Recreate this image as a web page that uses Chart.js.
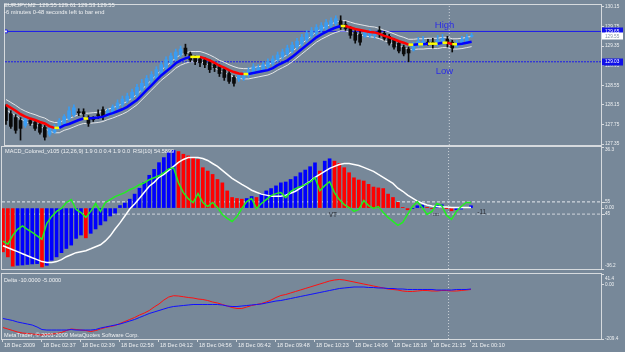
<!DOCTYPE html>
<html>
<head>
<meta charset="utf-8">
<script src="https://cdn.jsdelivr.net/npm/chart.js@4.4.0/dist/chart.umd.min.js"></script>
<style>
  html, body { margin: 0; padding: 0; background: #778899; }
  #wrap { position: relative; width: 625px; height: 352px; overflow: hidden; background: #778899; }
  #wrap canvas { position: absolute; left: 0; top: 0; }
</style>
</head>
<body>
<div id="wrap">
  <canvas id="mainChart" width="625" height="352"></canvas>
  <canvas id="macdChart" width="625" height="352"></canvas>
  <canvas id="deltaChart" width="625" height="352"></canvas>
</div>
<script>
// time axis labels, one every 8 bars
const tickBars = [0, 8, 16, 24, 32, 40, 48, 56, 64, 72, 80, 88, 96];
const tickLabels = ['18 Dec 2009', '18 Dec 02:37', '18 Dec 02:39', '18 Dec 02:58', '18 Dec 04:12', '18 Dec 04:56',
    '18 Dec 06:42', '18 Dec 09:48', '18 Dec 10:23', '18 Dec 14:06', '18 Dec 18:18', '18 Dec 21:15', '21 Dec 00:10'];

// EURJPY M2 candles
const opens = [128.09,127.97,127.89,127.83,127.73,127.83,127.79,127.75,127.69,127.55,
    127.59,127.69,127.77,127.87,127.95,128.01,128.01,127.89,127.87,127.95,
    128.05,127.95,127.99,128.09,128.15,128.23,128.29,128.35,128.45,128.53,
    128.63,128.71,128.81,128.91,129.01,129.09,129.17,129.31,129.19,129.11,
    129.09,129.07,129.03,128.97,128.93,128.87,128.79,128.71,128.67,128.69,
    128.75,128.81,128.85,128.87,128.93,128.99,129.07,129.13,129.19,129.25,
    129.33,129.39,129.47,129.55,129.61,129.67,129.71,129.77,129.81,129.87,
    129.79,129.71,129.63,129.59,129.55,129.57,129.57,129.67,129.61,129.55,
    129.47,129.41,129.33,129.29,129.27,129.37,129.39,129.43,129.43,129.39,
    129.43,129.49,129.43,129.35,129.39,129.43,129.55];
const closes = [127.83,127.71,127.63,127.67,127.87,127.77,127.67,127.59,127.49,127.67,
    127.71,127.83,127.91,128.03,128.09,127.99,127.97,127.77,127.85,127.93,
    127.91,128.03,128.11,128.19,128.27,128.33,128.41,128.51,128.59,128.69,
    128.77,128.87,128.97,129.07,129.15,129.23,129.29,129.19,129.07,129.03,
    129.01,128.97,128.87,128.91,128.79,128.71,128.63,128.59,128.75,128.79,
    128.85,128.93,128.91,128.97,129.03,129.09,129.17,129.23,129.31,129.37,
    129.45,129.53,129.61,129.67,129.73,129.77,129.83,129.87,129.91,129.73,
    129.71,129.57,129.47,129.43,129.63,129.63,129.61,129.63,129.51,129.41,
    129.33,129.25,129.19,129.21,129.37,129.45,129.45,129.41,129.39,129.47,
    129.51,129.43,129.31,129.41,129.49,129.53,129.55];
const highs = [128.15,128.03,127.95,127.89,127.91,127.87,127.83,127.79,127.73,127.71,
    127.75,127.87,127.95,128.11,128.15,128.07,128.07,127.93,127.91,128.05,
    128.11,128.07,128.15,128.25,128.33,128.39,128.47,128.57,128.67,128.75,
    128.83,128.93,129.03,129.13,129.21,129.29,129.35,129.39,129.23,129.15,
    129.13,129.11,129.07,129.01,128.97,128.91,128.83,128.75,128.79,128.83,
    128.91,128.99,128.97,129.03,129.09,129.15,129.23,129.29,129.37,129.43,
    129.51,129.59,129.67,129.73,129.79,129.83,129.89,129.93,129.97,129.97,
    129.85,129.75,129.67,129.65,129.67,129.69,129.65,129.75,129.65,129.59,
    129.51,129.45,129.37,129.33,129.43,129.53,129.55,129.49,129.51,129.57,
    129.59,129.55,129.47,129.47,129.55,129.59,129.61];
const lows = [127.75,127.67,127.57,127.43,127.69,127.73,127.63,127.55,127.43,127.51,
    127.57,127.65,127.75,127.83,127.91,127.93,127.91,127.71,127.81,127.87,
    127.85,127.91,127.95,128.05,128.11,128.19,128.25,128.31,128.41,128.49,
    128.59,128.67,128.77,128.87,128.97,129.05,129.13,129.15,129.03,128.97,
    128.93,128.91,128.81,128.83,128.73,128.65,128.59,128.53,128.63,128.65,
    128.71,128.77,128.81,128.83,128.89,128.95,129.03,129.09,129.15,129.21,
    129.29,129.35,129.43,129.51,129.57,129.63,129.67,129.73,129.77,129.69,
    129.67,129.51,129.41,129.37,129.53,129.53,129.51,129.53,129.47,129.37,
    129.29,129.21,129.15,129.03,129.25,129.33,129.35,129.37,129.31,129.35,
    129.39,129.33,129.23,129.33,129.37,129.39,129.53];

// moving average and its envelope
const maLine = [128.15,128.09,128.03,127.96,127.91,127.87,127.84,127.80,127.77,127.71,
    127.68,127.68,127.73,127.76,127.80,127.84,127.87,127.87,127.88,127.89,
    127.91,127.95,127.98,128.02,128.06,128.11,128.18,128.25,128.35,128.45,
    128.55,128.65,128.75,128.83,128.91,129.00,129.06,129.10,129.13,129.13,
    129.13,129.10,129.06,129.01,128.95,128.91,128.86,128.82,128.79,128.78,
    128.78,128.80,128.82,128.84,128.86,128.90,128.96,129.01,129.06,129.13,
    129.21,129.29,129.37,129.45,129.53,129.59,129.64,129.69,129.73,129.76,
    129.76,129.73,129.70,129.68,129.66,129.64,129.63,129.60,129.56,129.53,
    129.49,129.45,129.42,129.38,129.38,129.39,129.39,129.40,129.40,129.40,
    129.42,129.42,129.39,129.39,129.40,129.42,129.44];
const upperBand = [128.26,128.20,128.14,128.07,128.02,127.98,127.95,127.91,127.88,127.82,
    127.79,127.79,127.84,127.87,127.91,127.95,127.98,127.98,127.99,128.00,
    128.02,128.06,128.09,128.13,128.17,128.22,128.29,128.36,128.46,128.56,
    128.66,128.76,128.86,128.94,129.02,129.11,129.17,129.21,129.24,129.24,
    129.24,129.21,129.17,129.12,129.06,129.02,128.97,128.93,128.90,128.89,
    128.89,128.91,128.93,128.95,128.97,129.01,129.07,129.12,129.17,129.24,
    129.32,129.40,129.48,129.56,129.64,129.70,129.75,129.80,129.84,129.87,
    129.87,129.84,129.81,129.79,129.77,129.75,129.74,129.71,129.67,129.64,
    129.60,129.56,129.53,129.49,129.49,129.50,129.50,129.51,129.51,129.51,
    129.53,129.53,129.50,129.50,129.51,129.53,129.55];
const lowerBand = [128.05,127.99,127.93,127.86,127.81,127.77,127.74,127.70,127.67,127.61,
    127.58,127.58,127.63,127.66,127.70,127.74,127.77,127.77,127.78,127.79,
    127.81,127.85,127.88,127.92,127.96,128.01,128.08,128.15,128.25,128.35,
    128.45,128.55,128.65,128.73,128.81,128.90,128.96,129.00,129.03,129.03,
    129.03,129.00,128.96,128.91,128.85,128.81,128.76,128.72,128.69,128.68,
    128.68,128.70,128.72,128.74,128.76,128.80,128.86,128.91,128.96,129.03,
    129.11,129.19,129.27,129.35,129.43,129.49,129.54,129.59,129.63,129.66,
    129.66,129.63,129.60,129.58,129.56,129.54,129.53,129.50,129.46,129.43,
    129.39,129.35,129.32,129.28,129.28,129.29,129.29,129.30,129.30,129.30,
    129.32,129.32,129.29,129.29,129.30,129.32,129.34];

const highLevel = 129.65;
const lowLevel = 129.03;
const priceTicks = [130.15, 129.75, 129.35, 128.95, 128.55, 128.15, 127.75, 127.35];

// MACD_Colored histogram, signal and RSI(10)
const macdHist = [-26,-29,-34.5,-34,-33.8,-33.5,-33.2,-33,-35,-34,
    -31,-29,-26.5,-24,-22,-18,-16,-17.7,-15,-12.4,
    -10,-7.7,-4.7,-3,1.5,3,5.3,8.3,11.8,15.3,
    19.5,23,27,30,33,34.2,33.6,32,31,29.9,
    28.9,24,22,20,17,15,10.2,6.3,5.7,5.3,
    5.7,6.9,6.3,8.3,10.2,11.6,13.2,15,15.5,17,
    18.7,21,22.6,24.6,26.9,22,27.9,29.3,27.9,26.5,
    24,21,18,16.7,16.1,14.1,12.5,12,11.6,8.3,
    6.3,3.4,0.4,-1,-0.2,1.4,1.8,0.4,-0.2,1.8,
    2,-0.2,-1.6,-1,-0.6,0.4,1.4];
const macdSignal = [-22.4,-23.6,-24.8,-25.9,-27.1,-28.3,-29.5,-30.6,-31.8,-32.4,
    -32.4,-31.8,-30.6,-28.9,-27.7,-26.5,-25.9,-25.3,-24.2,-23,
    -21.8,-19.5,-16.5,-12.4,-8.8,-4.7,-0.6,2.4,5.9,9.4,
    13,15.3,18.3,20,22.4,24.8,27.1,28.9,30,30,
    30,29.5,28.3,26.5,24.8,22.4,20,17.7,15.9,14.1,
    12.4,10.6,9.4,8.3,7.7,7.1,7.1,7.1,7.7,8.8,
    10,11.8,14.1,15.9,18.3,20,21.8,23.6,24.8,25.9,
    26.5,26.5,25.9,25.3,24.2,23,21.8,20,18.3,16.5,
    14.7,11.8,10,7.7,5.9,4.1,2.9,1.8,1.2,0.9,
    0.6,0.6,0.3,0.3,0.3,0.3,0.3];
const rsi = [22.8,20.3,27.6,32.5,35.4,32.5,30,27.2,24.4,37.4,
    43.1,47.2,49.6,54.5,56.9,48.8,46.3,42.3,47.2,53.7,
    47.2,54.5,56.9,59.3,61,62.6,65,66.7,69.1,70.7,
    73.2,74.8,76.4,78.9,82.1,82.9,70.7,62.6,57.7,54.5,
    61.8,54.5,51.2,54.5,50.4,44.7,41.5,39,43.1,49.6,
    55.3,57.7,49.6,53.7,56.9,60.2,61.8,62.6,58.5,63.4,
    65.9,67.5,69.1,71.5,74.8,64.2,68.3,71.5,62.6,56.9,
    52.8,50.4,47.2,48.8,56.1,52,49.6,51.2,46.3,42.3,
    39,35.8,38.2,44.7,51.2,55.3,50.4,44.7,47.2,53.7,
    52,43.9,40.7,47.2,51.2,54.5,54.6];
const rsiLevels = [55, 45];

// Delta(-10, -5) lines
const deltaRed = [-165.1,-170.9,-176.7,-182.5,-186.3,-188.3,-190.2,-192.1,-194.1,-192.1,
    -190.2,-188.3,-184.4,-176.7,-170.9,-172.8,-174.8,-176.7,-180.6,-176.7,
    -170.9,-165.1,-161.2,-157.4,-149.7,-141.9,-134.2,-126.5,-116.9,-109.2,
    -99.5,-86,-74.4,-59,-47.4,-42.4,-43.5,-46.2,-49.3,-51.2,
    -55.1,-57,-60.9,-66.7,-70.5,-76.3,-82.1,-87.9,-91.7,-91.7,
    -86,-80.2,-76.3,-72.5,-66.7,-59,-49.3,-41.6,-37.7,-31.9,
    -26.1,-20.4,-14.6,-8.8,-3,2.8,8.6,14.4,18.2,20.2,
    18.2,14.4,10.6,6.7,2.8,-1.1,-4.9,-8.8,-12.6,-16.5,
    -18.4,-20.4,-24.2,-26.1,-26.1,-24.2,-22.3,-22.3,-24.2,-24.2,
    -22.3,-22.3,-24.2,-24.2,-22.3,-20.4,-18.4];
const deltaBlue = [-130.4,-134.2,-138.1,-143.9,-147.7,-151.6,-155.5,-163.2,-172.9,-174.8,
    -174.8,-174.8,-174.8,-174.8,-172.9,-174.8,-174.8,-174.8,-174.8,-172.9,
    -167.1,-163.2,-159.4,-155.5,-151.6,-145.8,-140,-134.2,-126.5,-118.8,
    -111.1,-105.3,-99.5,-93.7,-87.9,-84,-82.1,-80.2,-78.2,-76.3,
    -76.3,-76.3,-76.3,-76.3,-76.3,-78.2,-82.1,-84,-84,-82.1,
    -80.2,-78.2,-76.3,-74.4,-70.5,-66.7,-62.8,-60.9,-57,-53.2,
    -49.3,-45.4,-41.6,-37.7,-33.9,-30,-26.1,-22.3,-18.4,-14.6,
    -12.6,-10.7,-8.8,-8.8,-8.8,-10.7,-10.7,-12.6,-12.6,-14.6,
    -14.6,-16.5,-16.5,-18.4,-18.4,-18.4,-18.4,-18.4,-18.4,-20.4,
    -20.4,-20.4,-20.4,-18.4,-18.4,-18.4,-16.5];

// vertical line object
const separatorBar = 91.4;

const X_MIN = -0.2, X_MAX = 122.67;
const MAIN_MIN = 127.33, MAIN_MAX = 130.19;
const MACD_MIN = -36.2, MACD_MAX = 36.3;
const DELTA_MIN = -209.4, DELTA_MAX = 41.4;

const FONT = "'Liberation Sans', Arial, sans-serif";
const TEXT = '#eef0f2';
const FRAME = '#d6dade';
const BULL = '#3a9cf2';
const BEAR = '#0a0a0a';

Chart.defaults.font.family = FONT;
Chart.defaults.animation = false;
Chart.defaults.events = [];
Chart.defaults.plugins.legend.display = false;
Chart.defaults.plugins.tooltip.enabled = false;

const pts = arr => arr.map((v, i) => ({x: i, y: v}));

function xScale(show) {
    return {
        type: 'linear', min: X_MIN, max: X_MAX, display: show, offset: false,
        afterBuildTicks: s => { s.ticks = tickBars.map(v => ({value: v})); },
        afterFit: s => { if (show) { s.height = 13; } s.paddingLeft = 0; s.paddingRight = 0; },
        grid: { offset: false, drawOnChartArea: false, tickLength: 3, color: FRAME },
        border: { display: false },
        ticks: {
            autoSkip: false, maxRotation: 0, align: 'start', labelOffset: 1, padding: 0,
            color: TEXT, font: { size: 5.5 },
            callback: v => tickLabels[tickBars.indexOf(v)] || ''
        }
    };
}

function yScale(min, max, values, fmt, extra) {
    return Object.assign({
        type: 'linear', position: 'right', min: min, max: max,
        afterBuildTicks: s => { s.ticks = values.map(v => ({value: v})); },
        afterFit: s => { s.width = 24; s.paddingTop = 0; s.paddingBottom = 0; },
        grid: { drawOnChartArea: false, tickLength: 3, color: FRAME },
        border: { display: false },
        ticks: { autoSkip: false, padding: 1, color: TEXT, font: { size: 4.7 }, callback: fmt }
    }, extra || {});
}

const framePlugin = {
    id: 'frame',
    afterDraw(chart) {
        const {ctx, chartArea: a} = chart;
        ctx.save();
        ctx.strokeStyle = FRAME;
        ctx.lineWidth = 1;
        ctx.strokeRect(Math.round(a.left) - 0.5, Math.round(a.top) - 0.5,
            Math.round(a.right - a.left) + 1, Math.round(a.bottom - a.top) + 1);
        ctx.restore();
    }
};

function separator(yMin, yMax) {
    return {
        type: 'line', data: [{x: separatorBar, y: yMin}, {x: separatorBar, y: yMax}],
        borderColor: '#c9d0d8', borderWidth: 1, borderDash: [1, 2], pointRadius: 0, order: 20
    };
}

function candleColor(c) {
    const i = c.dataIndex;
    return closes[i] >= opens[i] ? BULL : BEAR;
}

function maSegColor(c) {
    const d = c.p1.parsed.y - c.p0.parsed.y;
    if (Math.abs(d) < 0.005) return '#ffff00';
    return d > 0 ? '#0000ff' : '#ff0000';
}

function textAt(ctx, txt, x, y, color, size, baseline) {
    ctx.fillStyle = color;
    ctx.font = size + 'px ' + FONT;
    ctx.textBaseline = baseline || 'middle';
    ctx.textAlign = 'left';
    ctx.fillText(txt, x, y);
}

const mainOverlay = {
    id: 'mainOverlay',
    afterDraw(chart) {
        const ctx = chart.ctx, xs = chart.scales.x, ys = chart.scales.y;
        const n = closes.length - 1;
        ctx.save();
        textAt(ctx, 'EURJPY,M2  ' + opens[n].toFixed(2) + ' ' + highs[n].toFixed(2) + ' ' +
            lows[n].toFixed(2) + ' ' + closes[n].toFixed(2), 4, 5.5, TEXT, 5.8);
        textAt(ctx, '-6 minutes 0-48 seconds left to bar end', 4, 12, TEXT, 5.8);
        textAt(ctx, 'High', xs.getPixelForValue(88.4), ys.getPixelForValue(highLevel) - 6.5, '#2a2ae8', 9.5);
        textAt(ctx, 'Low', xs.getPixelForValue(88.6), ys.getPixelForValue(lowLevel) + 9.5, '#2a2ae8', 9.5);
        const boxes = [
            {v: highLevel, bg: '#1010e8', fg: '#ffffff'},
            {v: closes[n], bg: '#ffffff', fg: '#8494a4'},
            {v: lowLevel, bg: '#1010e8', fg: '#ffffff'}
        ];
        boxes.forEach(b => {
            const y = ys.getPixelForValue(b.v);
            ctx.fillStyle = b.bg;
            ctx.fillRect(602, Math.round(y) - 3.5, 21, 7);
            textAt(ctx, b.v.toFixed(2), 605, y, b.fg, 4.7);
        });
        ctx.restore();
    }
};

const macdOverlay = {
    id: 'macdOverlay',
    afterDraw(chart) {
        const ctx = chart.ctx, xs = chart.scales.x, ys = chart.scales.y, rs = chart.scales.yRsi;
        const right = chart.chartArea.right;
        ctx.save();
        textAt(ctx, 'MACD_Colored_v105 (12,26,9) 1.9 0.0 0.4 1.9 0.0  RSI(10) 54.5899', 5, 151.5, TEXT, 5.6);
        textAt(ctx, 'VT', xs.getPixelForValue(66.8), ys.getPixelForValue(-4.1), '#2b2f36', 6.5);
        textAt(ctx, '\u25a1\u25a1', xs.getPixelForValue(88.2), ys.getPixelForValue(-3.9), '#2b2f36', 5);
        textAt(ctx, '-11', xs.getPixelForValue(97.3), ys.getPixelForValue(-2.3), '#2b2f36', 6.5);
        // RSI level labels on the right edge
        ctx.strokeStyle = FRAME;
        ctx.lineWidth = 1;
        rsiLevels.forEach(lv => {
            const y = rs.getPixelForValue(lv);
            ctx.beginPath();
            ctx.moveTo(right + 1, Math.round(y) + 0.5);
            ctx.lineTo(right + 4, Math.round(y) + 0.5);
            ctx.stroke();
            textAt(ctx, String(lv), right + 4, y, TEXT, 4.7);
        });
        ctx.restore();
    }
};

const deltaOverlay = {
    id: 'deltaOverlay',
    afterDraw(chart) {
        const ctx = chart.ctx;
        ctx.save();
        textAt(ctx, 'Delta -10.0000 -5.0000', 4, 280, TEXT, 5.6);
        textAt(ctx, 'MetaTrader, \u00a9 2001-2009 MetaQuotes Software Corp.', 4, 335.5, TEXT, 5.6);
        ctx.restore();
    }
};

// price panel
new Chart(document.getElementById('mainChart'), {
    type: 'line',
    data: {
        datasets: [
            separator(MAIN_MIN, MAIN_MAX),
            {
                type: 'line', data: [{x: 0, y: highLevel}, {x: X_MAX, y: highLevel}],
                borderColor: '#1a1aee', borderWidth: 1, pointStyle: 'rect',
                pointRadius: c => c.dataIndex === 0 ? 2 : 0,
                pointBackgroundColor: '#ffffff', pointBorderColor: '#1a1aee', pointBorderWidth: 1, order: 19
            },
            {
                type: 'line', data: [{x: X_MIN, y: lowLevel}, {x: X_MAX, y: lowLevel}],
                borderColor: '#1a1aee', borderWidth: 1, borderDash: [2, 1], pointRadius: 0, order: 18
            },
            { type: 'line', data: pts(upperBand), borderColor: '#e4e6e8', borderWidth: 1, pointRadius: 0, order: 17 },
            { type: 'line', data: pts(lowerBand), borderColor: '#e4e6e8', borderWidth: 1, pointRadius: 0, order: 16 },
            {
                type: 'bar', data: lows.map((l, i) => ({x: i, y: [l, highs[i]]})),
                backgroundColor: candleColor, barThickness: 1, grouped: false, order: 15
            },
            {
                type: 'bar', data: opens.map((o, i) => ({x: i, y: [o, closes[i]]})),
                backgroundColor: candleColor, barThickness: 3, minBarLength: 1, grouped: false, order: 14
            },
            {
                type: 'line', data: pts(maLine), borderWidth: 2.5, borderColor: '#0000ff',
                segment: { borderColor: maSegColor }, pointRadius: 0, order: 1
            }
        ]
    },
    options: {
        responsive: false,
        layout: { padding: { top: 2, bottom: 352 - 145, left: 2, right: 0 } },
        scales: {
            x: xScale(false),
            y: yScale(MAIN_MIN, MAIN_MAX, priceTicks, v => v.toFixed(2))
        }
    },
    plugins: [framePlugin, mainOverlay]
});

// MACD + RSI panel
new Chart(document.getElementById('macdChart'), {
    type: 'line',
    data: {
        datasets: [
            separator(MACD_MIN, MACD_MAX),
            {
                type: 'line', yAxisID: 'yRsi', data: [{x: X_MIN, y: rsiLevels[0]}, {x: X_MAX, y: rsiLevels[0]}],
                borderColor: '#e8ecf0', borderWidth: 1, borderDash: [3, 2], pointRadius: 0, order: 19
            },
            {
                type: 'line', yAxisID: 'yRsi', data: [{x: X_MIN, y: rsiLevels[1]}, {x: X_MAX, y: rsiLevels[1]}],
                borderColor: '#d0d6dc', borderWidth: 1, borderDash: [3, 2], pointRadius: 0, order: 18
            },
            {
                type: 'bar', data: pts(macdHist), barThickness: 3, grouped: false, order: 10,
                backgroundColor: c => (c.dataIndex > 0 && macdHist[c.dataIndex] > macdHist[c.dataIndex - 1]) ? '#0000ff' : '#ff0000'
            },
            { type: 'line', data: pts(macdSignal), borderColor: '#ffffff', borderWidth: 1.5, pointRadius: 0, order: 3 },
            { type: 'line', yAxisID: 'yRsi', data: pts(rsi), borderColor: '#22ee22', borderWidth: 1.5, pointRadius: 0, order: 2 }
        ]
    },
    options: {
        responsive: false,
        layout: { padding: { top: 147, bottom: 352 - 269, left: 2, right: 0 } },
        scales: {
            x: xScale(false),
            y: yScale(MACD_MIN, MACD_MAX, [MACD_MAX, 0, MACD_MIN],
                v => v === MACD_MAX ? ['', '36.3'] : (v === MACD_MIN ? ['-36.2', ''] : '0.00')),
            yRsi: { type: 'linear', position: 'right', display: false, min: 0, max: 100 }
        }
    },
    plugins: [framePlugin, macdOverlay]
});

// Delta panel with the time axis
const deltaY = yScale(DELTA_MIN, DELTA_MAX, [DELTA_MAX, 0, DELTA_MIN],
    v => v === DELTA_MAX ? ['', '41.4'] : (v === DELTA_MIN ? '-209.4' : '0.00'));
deltaY.ticks.font = { size: 4.7, lineHeight: 2 };

new Chart(document.getElementById('deltaChart'), {
    type: 'line',
    data: {
        datasets: [
            separator(DELTA_MIN, DELTA_MAX),
            { type: 'line', data: pts(deltaRed), borderColor: '#ff1010', borderWidth: 1, pointRadius: 0, order: 2 },
            { type: 'line', data: pts(deltaBlue), borderColor: '#1010ff', borderWidth: 1, pointRadius: 0, order: 1 }
        ]
    },
    options: {
        responsive: false,
        layout: { padding: { top: 274, bottom: 0, left: 2, right: 0 } },
        scales: {
            x: xScale(true),
            y: deltaY
        }
    },
    plugins: [framePlugin, deltaOverlay]
});
</script>
</body>
</html>
